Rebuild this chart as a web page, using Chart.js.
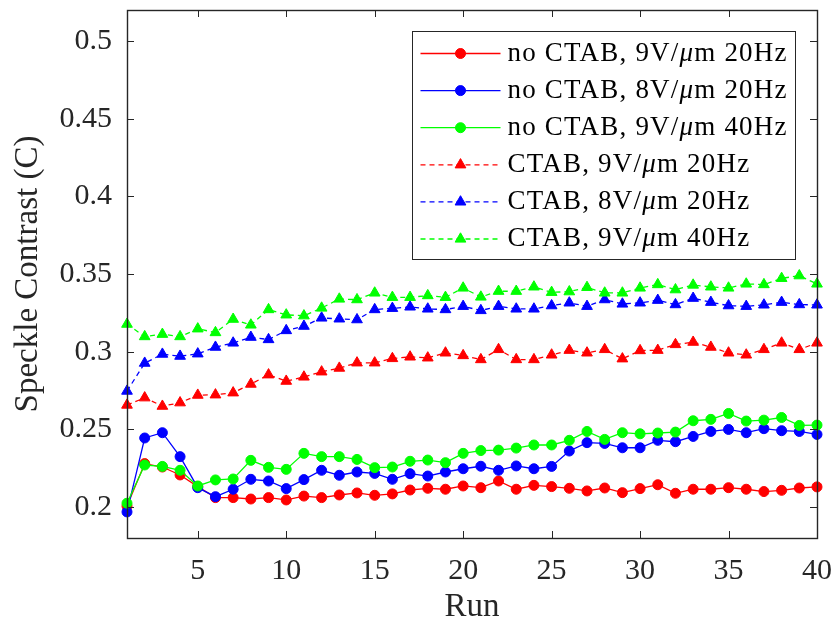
<!DOCTYPE html>
<html>
<head>
<meta charset="utf-8">
<script src="https://cdn.jsdelivr.net/npm/chart.js@4.4.1/dist/chart.umd.min.js"></script>
<style>
  html, body { margin: 0; padding: 0; background: #ffffff; }
  #wrap { width: 836px; height: 630px; }
</style>
</head>
<body>
<div id="wrap"><canvas id="c" width="836" height="630"></canvas></div>
<script>
// Run index
const runs = [1, 2, 3, 4, 5, 6, 7, 8, 9, 10, 11, 12, 13, 14, 15, 16, 17, 18, 19, 20,
              21, 22, 23, 24, 25, 26, 27, 28, 29, 30, 31, 32, 33, 34, 35, 36, 37, 38, 39, 40];

// Speckle contrast per run, without CTAB
const noCtab9V20Hz = [0.2006, 0.2279, 0.2257, 0.2206, 0.2131, 0.2060, 0.2060, 0.2051, 0.2060, 0.2045,
                      0.2070, 0.2060, 0.2077, 0.2090, 0.2075, 0.2084, 0.2109, 0.2120, 0.2114, 0.2135,
                      0.2124, 0.2167, 0.2114, 0.2139, 0.2131, 0.2120, 0.2103, 0.2122, 0.2092, 0.2118,
                      0.2143, 0.2088, 0.2114, 0.2114, 0.2124, 0.2114, 0.2099, 0.2107, 0.2122, 0.2129];
const noCtab8V20Hz = [0.1968, 0.2444, 0.2478, 0.2324, 0.2124, 0.2066, 0.2114, 0.2178, 0.2167, 0.2118,
                      0.2176, 0.2236, 0.2204, 0.2225, 0.2216, 0.2178, 0.2214, 0.2199, 0.2225, 0.2246,
                      0.2262, 0.2236, 0.2264, 0.2246, 0.2261, 0.2360, 0.2414, 0.2409, 0.2381, 0.2381,
                      0.2429, 0.2420, 0.2454, 0.2486, 0.2499, 0.2478, 0.2504, 0.2491, 0.2486, 0.2467];
const noCtab9V40Hz = [0.2024, 0.2270, 0.2261, 0.2236, 0.2135, 0.2174, 0.2180, 0.2300, 0.2255, 0.2242,
                      0.2345, 0.2324, 0.2324, 0.2306, 0.2253, 0.2257, 0.2294, 0.2302, 0.2285, 0.2345,
                      0.2363, 0.2366, 0.2379, 0.2399, 0.2399, 0.2429, 0.2486, 0.2435, 0.2478, 0.2471,
                      0.2476, 0.2482, 0.2555, 0.2564, 0.2602, 0.2553, 0.2559, 0.2576, 0.2525, 0.2527];

// Speckle contrast per run, with CTAB
const ctab9V20Hz = [0.2656, 0.2703, 0.2649, 0.2671, 0.2720, 0.2722, 0.2735, 0.2791, 0.2851, 0.2810,
                    0.2837, 0.2870, 0.2894, 0.2928, 0.2928, 0.2956, 0.2966, 0.2960, 0.2992, 0.2975,
                    0.2949, 0.3014, 0.2949, 0.2949, 0.2979, 0.3009, 0.2992, 0.3014, 0.2954, 0.3007,
                    0.3009, 0.3046, 0.3061, 0.3029, 0.2992, 0.2979, 0.3014, 0.3056, 0.3014, 0.3056];
const ctab8V20Hz = [0.2746, 0.2926, 0.2984, 0.2971, 0.2986, 0.3029, 0.3056, 0.3093, 0.3078, 0.3136,
                    0.3164, 0.3217, 0.3211, 0.3206, 0.3271, 0.3279, 0.3288, 0.3275, 0.3271, 0.3292,
                    0.3265, 0.3292, 0.3275, 0.3275, 0.3296, 0.3314, 0.3292, 0.3335, 0.3307, 0.3314,
                    0.3331, 0.3303, 0.3344, 0.3318, 0.3296, 0.3292, 0.3301, 0.3318, 0.3303, 0.3301];
const ctab9V40Hz = [0.3177, 0.3097, 0.3112, 0.3097, 0.3147, 0.3123, 0.3209, 0.3172, 0.3271, 0.3237,
                    0.3231, 0.3281, 0.3339, 0.3335, 0.3378, 0.3350, 0.3350, 0.3361, 0.3350, 0.3410,
                    0.3352, 0.3389, 0.3389, 0.3417, 0.3382, 0.3386, 0.3414, 0.3378, 0.3378, 0.3410,
                    0.3432, 0.3399, 0.3429, 0.3417, 0.3410, 0.3436, 0.3432, 0.3472, 0.3489, 0.3436];

const seriesLabels = [
  'no CTAB, 9V/\u03bcm 20Hz',
  'no CTAB, 8V/\u03bcm 20Hz',
  'no CTAB, 9V/\u03bcm 40Hz',
  'CTAB, 9V/\u03bcm 20Hz',
  'CTAB, 8V/\u03bcm 20Hz',
  'CTAB, 9V/\u03bcm 40Hz'
];

// Axis ticks
const xTicks = [5, 10, 15, 20, 25, 30, 35, 40];
const xTickLabels = ['5', '10', '15', '20', '25', '30', '35', '40'];
const yTicks = [0.2, 0.25, 0.3, 0.35, 0.4, 0.45, 0.5];
const yTickLabels = ['0.2', '0.25', '0.3', '0.35', '0.4', '0.45', '0.5'];

const AXIS = '#262626';
const FONT = '"Liberation Serif", "Times New Roman", serif';

function series(label, values, color, dashed) {
  return {
    label: label,
    data: runs.map((r, i) => ({ x: r, y: values[i] })),
    borderColor: color,
    backgroundColor: color,
    borderWidth: 1.3,
    borderDash: dashed ? [5, 4] : [],
    pointStyle: dashed ? 'triangle' : 'circle',
    pointRadius: dashed ? 6.2 : 5,
    pointBorderWidth: 1,
    pointBackgroundColor: color,
    pointBorderColor: color,
    tension: 0,
    clip: false
  };
}

const datasets = [
  series(seriesLabels[0], noCtab9V20Hz, '#ff0000', false),
  series(seriesLabels[1], noCtab8V20Hz, '#0000ff', false),
  series(seriesLabels[2], noCtab9V40Hz, '#00ff00', false),
  series(seriesLabels[3], ctab9V20Hz, '#ff0000', true),
  series(seriesLabels[4], ctab8V20Hz, '#0000ff', true),
  series(seriesLabels[5], ctab9V40Hz, '#00ff00', true)
];
// later series are painted on top
datasets.forEach((d, i) => { d.order = datasets.length - i; });

// no extra room reserved for labels overhanging the plot edges
function noEdgePadding(scale) {
  scale.paddingLeft = 0; scale.paddingRight = 0;
  scale.paddingTop = 0; scale.paddingBottom = 0;
}

// Box around the plot with inward tick marks on all four sides
const boxTicks = {
  id: 'boxTicks',
  afterDatasetsDraw(chart) {
    const ctx = chart.ctx, a = chart.chartArea;
    const xs = chart.scales.x, ys = chart.scales.y;
    const len = 7;
    ctx.save();
    ctx.strokeStyle = AXIS;
    ctx.lineWidth = 1;
    ctx.beginPath();
    xTicks.forEach(v => {
      const px = Math.round(xs.getPixelForValue(v)) + 0.5;
      ctx.moveTo(px, a.bottom); ctx.lineTo(px, a.bottom - len);
      ctx.moveTo(px, a.top); ctx.lineTo(px, a.top + len);
    });
    yTicks.forEach(v => {
      const py = Math.round(ys.getPixelForValue(v)) + 0.5;
      ctx.moveTo(a.left, py); ctx.lineTo(a.left + len, py);
      ctx.moveTo(a.right, py); ctx.lineTo(a.right - len, py);
    });
    ctx.stroke();
    ctx.lineWidth = 1.4;
    ctx.strokeRect(Math.round(a.left) + 0.5, Math.round(a.top) + 0.5,
                   Math.round(a.right - a.left), Math.round(a.bottom - a.top));
    ctx.restore();
  }
};

// Legend box in the upper right: line sample with marker, then label
const boxLegend = {
  id: 'boxLegend',
  afterDraw(chart) {
    const ctx = chart.ctx, a = chart.chartArea;
    const bx = Math.round(a.right - 405) + 0.5, by = Math.round(a.top + 21) + 0.5;
    const bw = 383, bh = 228;
    ctx.save();
    ctx.fillStyle = '#ffffff';
    ctx.fillRect(bx, by, bw, bh);
    ctx.strokeStyle = AXIS;
    ctx.lineWidth = 1;
    ctx.strokeRect(bx, by, bw, bh);
    const fontSize = 27;
    chart.data.datasets.forEach((ds, i) => {
      const y = by + 22 + i * 37.1;
      ctx.strokeStyle = ds.borderColor;
      ctx.fillStyle = ds.backgroundColor;
      ctx.lineWidth = ds.borderWidth;
      ctx.setLineDash(ds.borderDash);
      ctx.beginPath();
      ctx.moveTo(bx + 8, y); ctx.lineTo(bx + 88, y);
      ctx.stroke();
      ctx.setLineDash([]);
      ctx.lineWidth = 1;
      Chart.helpers.drawPoint(ctx, {
        pointStyle: ds.pointStyle, radius: ds.pointRadius, borderWidth: 1, rotation: 0
      }, bx + 48, y);
      // label, with the Greek mu set in italics
      const parts = ds.label.split('\u03bc');
      let tx = bx + 95;
      ctx.fillStyle = '#000000';
      ctx.textBaseline = 'middle';
      ctx.textAlign = 'left';
      ctx.letterSpacing = '1.2px';
      parts.forEach((p, k) => {
        if (k > 0) {
          ctx.font = 'italic ' + fontSize + 'px ' + FONT;
          ctx.fillText('\u03bc', tx, y);
          tx += ctx.measureText('\u03bc').width;
        }
        ctx.font = fontSize + 'px ' + FONT;
        ctx.fillText(p, tx, y);
        tx += ctx.measureText(p).width;
      });
    });
    ctx.restore();
  }
};

new Chart(document.getElementById('c'), {
  type: 'line',
  data: { datasets: datasets },
  plugins: [boxTicks, boxLegend],
  options: {
    responsive: false,
    animation: false,
    devicePixelRatio: 1,
    layout: { padding: { left: 0, right: 19, top: 10, bottom: 0 } },
    plugins: { legend: { display: false }, tooltip: { enabled: false } },
    scales: {
      x: {
        type: 'linear',
        min: 1, max: 40,
        afterBuildTicks(scale) { scale.ticks = xTicks.map(v => ({ value: v })); },
        afterFit(scale) { scale.height = 92; noEdgePadding(scale); },
        grid: { display: false, drawTicks: false },
        border: { display: false },
        ticks: {
          padding: 15,
          color: AXIS,
          font: { family: FONT, size: 30 },
          maxRotation: 0,
          callback: (v, i) => xTickLabels[i]
        },
        title: {
          display: true, text: 'Run', color: AXIS,
          font: { family: FONT, size: 33 },
          padding: { top: 0, bottom: 3 }
        }
      },
      y: {
        type: 'linear',
        min: 0.18, max: 0.52,
        afterBuildTicks(scale) { scale.ticks = yTicks.map(v => ({ value: v })); },
        afterFit(scale) { scale.width = 127; noEdgePadding(scale); },
        grid: { display: false, drawTicks: false },
        border: { display: false },
        ticks: {
          padding: 15,
          color: AXIS,
          font: { family: FONT, size: 30 },
          callback: (v, i) => yTickLabels[i]
        },
        title: {
          display: true, text: 'Speckle Contrast (C)', color: AXIS,
          font: { family: FONT, size: 33 },
          padding: { top: 9, bottom: 0 }
        }
      }
    }
  }
});
</script>
</body>
</html>
